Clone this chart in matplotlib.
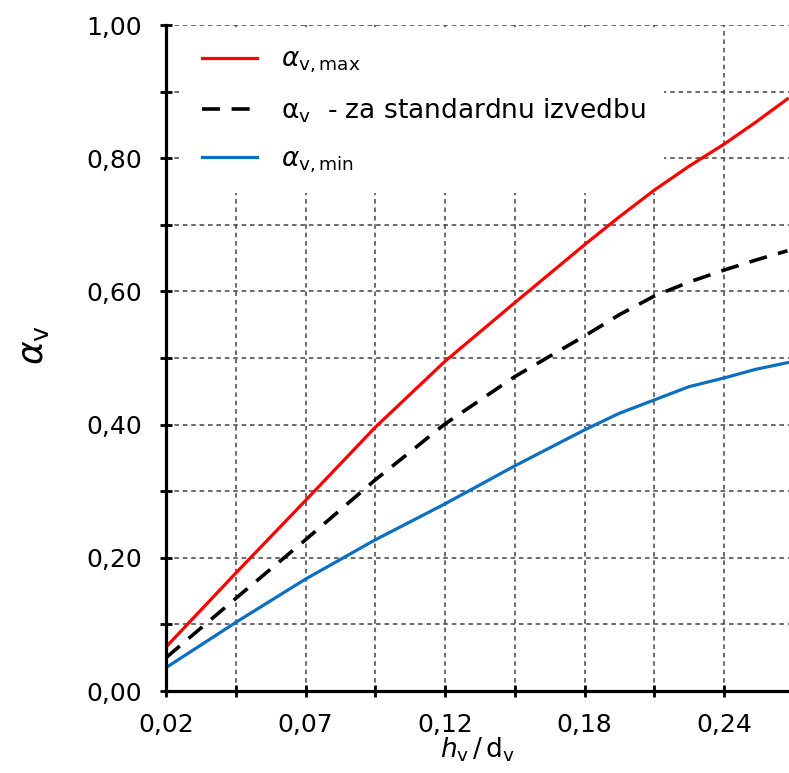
import numpy as np
import matplotlib
matplotlib.use("Agg")
import matplotlib.pyplot as plt

plt.rcParams['font.family'] = ['DejaVu Sans']
plt.rcParams['mathtext.fontset'] = 'dejavusans'

# values (x on a linear scale, one tick every 0.0275)
h_d = [0.02, 0.0475, 0.075, 0.1025, 0.13, 0.1575, 0.185, 0.19875, 0.2125,
       0.22625, 0.24, 0.2525, 0.265]
alpha_max = [0.066, 0.177, 0.286, 0.396, 0.495, 0.583, 0.670, 0.712, 0.752,
             0.788, 0.821, 0.854, 0.889]
alpha_std = [0.050, 0.139, 0.227, 0.317, 0.401, 0.472, 0.533, 0.565, 0.593,
             0.614, 0.632, 0.647, 0.661]
alpha_min = [0.035, 0.103, 0.168, 0.227, 0.281, 0.338, 0.392, 0.417, 0.437,
             0.457, 0.470, 0.483, 0.493]

x_ticks = [0.02 + 0.0275 * k for k in range(9)]
x_labels = ["0,02", "", "0,07", "", "0,12", "", "0,18", "", "0,24"]
y_ticks = [k / 10 for k in range(11)]
y_labels = ["0,00", "", "0,20", "", "0,40", "", "0,60", "", "0,80", "", "1,00"]

fig = plt.figure(figsize=(7.89, 7.73), dpi=100)
ax = fig.add_axes([166 / 789, 1 - 691 / 773, 1 - 166 / 789, (691 - 25) / 773])

ax.plot(h_d, alpha_max, color='#ff0000', lw=2.3, label=r'$\alpha_{\rm v,max}$')
ax.plot(h_d, alpha_std, color='black', lw=2.6, dashes=(5, 3.2),
        label=r'$\mathrm{\alpha}_{\rm v}$  - za standardnu izvedbu')
ax.plot(h_d, alpha_min, color='#0b6fc4', lw=2.3, label=r'$\alpha_{\rm v,min}$')

ax.set_xlim(0.02, 0.02 + (789 - 166) / 69.75 * 0.0275)
ax.set_ylim(0, 1)
ax.set_xticks(x_ticks)
ax.set_xticklabels(x_labels)
ax.set_yticks(y_ticks)
ax.set_yticklabels(y_labels)

ax.grid(True, color='#444444', lw=1.1, ls=(0, (3, 2.5)))
ax.set_axisbelow(True)
for s in ['top', 'right']:
    ax.spines[s].set_visible(False)
for s in ['left', 'bottom']:
    ax.spines[s].set_linewidth(2.3)
ax.tick_params(direction='inout', length=9, width=2, labelsize=18)
ax.tick_params(axis='y', pad=13)
ax.tick_params(axis='x', pad=11)

ax.set_ylabel(r'$\alpha_{\rm v}$', fontsize=26)
ax.yaxis.set_label_coords(-0.185, 0.52)
ax.set_xlabel(r'$h_{\rm v}\,/\,\mathrm{d}_{\rm v}$', fontsize=19, labelpad=-1)

leg = ax.legend(loc='upper left', bbox_to_anchor=(0.028, 0.995), fontsize=19,
                frameon=True, fancybox=False, framealpha=1, edgecolor='none',
                handlelength=2.1, handletextpad=0.9, labelspacing=0.8,
                borderaxespad=0, borderpad=0.7)
# keep the legend background over the grid but under the curves
leg.set_zorder(1.5)

fig.savefig('out.png', dpi=100)
